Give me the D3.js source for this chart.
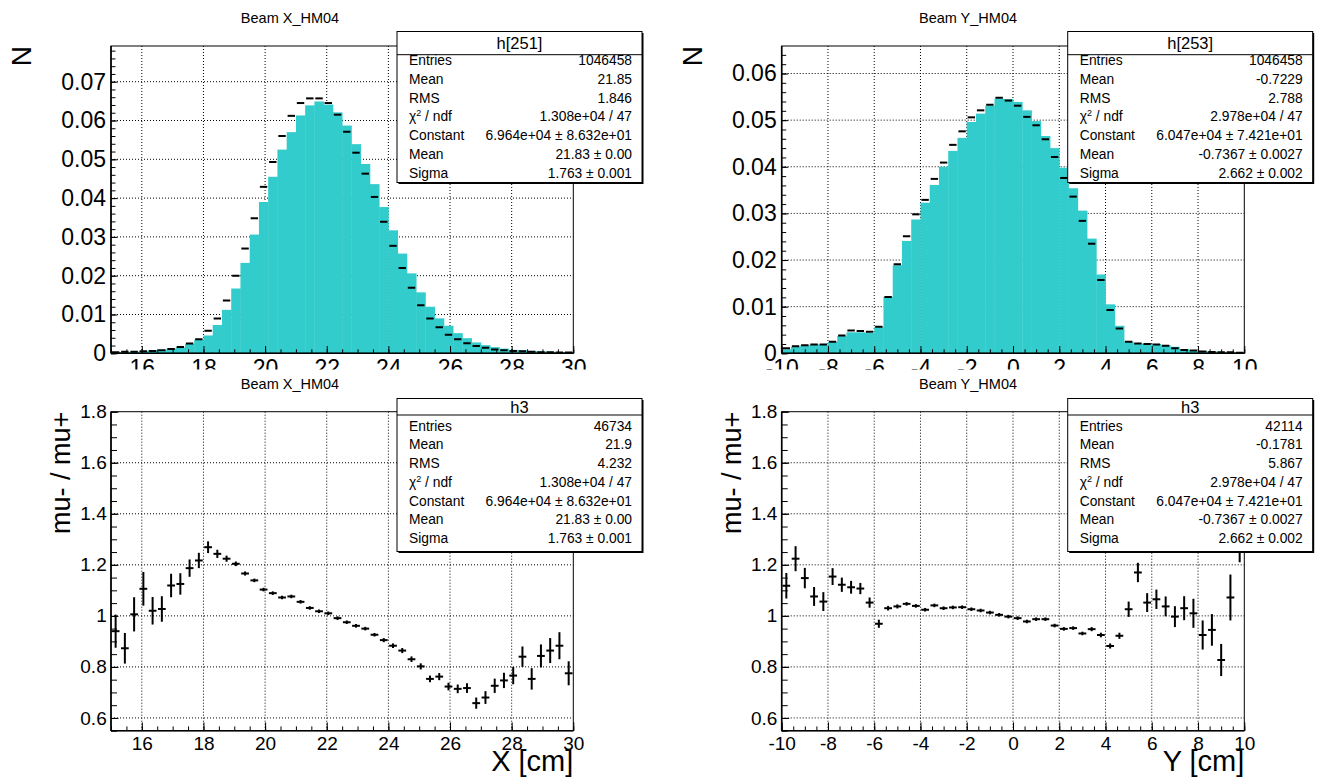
<!DOCTYPE html>
<html><head><meta charset="utf-8">
<script src="https://cdn.jsdelivr.net/npm/d3@7"></script>
<style>body{margin:0;background:#fff} svg{display:block}</style>
</head><body>
<script>
const FONT = "'Liberation Sans', Arial, Helvetica, sans-serif";

// ---------------- data ----------------
const nBins = 50;
const rangeX = [15, 30];
const rangeY = [-10, 10];

// Beam X_HM04 (top-left): filled histogram and marker histogram (normalized N)
const histXFill = [0.0003,0.0003,0.0004,0.0006,0.0008,0.0009,0.0012,0.0015,0.0024,0.0035,0.0046,0.0073,0.0112,0.0167,0.0233,0.0306,0.0390,0.0455,0.0525,0.0570,0.0613,0.0639,0.0649,0.0641,0.0621,0.0587,0.0539,0.0488,0.0436,0.0377,0.0317,0.0257,0.0206,0.0157,0.0120,0.0090,0.0071,0.0052,0.0039,0.0028,0.0021,0.0016,0.0012,0.0009,0.0008,0.0006,0.0005,0.0004,0.0003,0.0003];
const histXMark = [0.0003,0.0004,0.0004,0.0005,0.0006,0.0008,0.0011,0.0016,0.0025,0.0036,0.0058,0.0090,0.0136,0.0200,0.0270,0.0348,0.0429,0.0493,0.0560,0.0612,0.0645,0.0657,0.0657,0.0645,0.0615,0.0571,0.0517,0.0463,0.0403,0.0339,0.0277,0.0220,0.0169,0.0124,0.0090,0.0067,0.0048,0.0036,0.0026,0.0019,0.0014,0.0010,0.0008,0.0006,0.0005,0.0004,0.0003,0.0003,0.0002,0.0002];

// Beam Y_HM04 (top-right)
const histYFill = [0.00086,0.0014,0.0017,0.0019,0.0019,0.0024,0.0037,0.0045,0.0045,0.0044,0.0056,0.0121,0.0189,0.0241,0.0287,0.0323,0.0361,0.0400,0.0434,0.0462,0.0496,0.0514,0.0531,0.0546,0.0545,0.0539,0.0521,0.0498,0.0466,0.0440,0.0398,0.0354,0.0306,0.0246,0.0169,0.0105,0.0059,0.0025,0.0021,0.0020,0.0020,0.0017,0.0014,0.0009,0.0007,0.0005,0.0004,0.0003,0.0002,0.0002];
const histYMark = [0.0011,0.0015,0.0017,0.0019,0.0019,0.0025,0.0038,0.0049,0.0048,0.0046,0.0057,0.0121,0.0191,0.0251,0.0298,0.0329,0.0374,0.0409,0.0447,0.0476,0.0506,0.0521,0.0533,0.0548,0.0542,0.0531,0.0507,0.0489,0.0459,0.0421,0.0376,0.0336,0.0284,0.0235,0.0157,0.0093,0.0053,0.0025,0.0021,0.0020,0.0019,0.0016,0.0011,0.0007,0.0006,0.0004,0.0003,0.0002,0.0002,0.0001];

// mu- / mu+ ratio vs X (bottom-left)
const ratioX = [0.940,0.873,1.006,1.106,1.020,1.027,1.119,1.125,1.187,1.217,1.269,1.243,1.224,1.204,1.166,1.139,1.103,1.089,1.072,1.076,1.055,1.031,1.018,1.010,0.991,0.975,0.961,0.950,0.926,0.905,0.883,0.864,0.830,0.802,0.753,0.762,0.723,0.714,0.717,0.658,0.680,0.726,0.747,0.766,0.840,0.753,0.843,0.864,0.883,0.775];
const ratioXErr = [0.065,0.060,0.067,0.066,0.054,0.050,0.046,0.042,0.034,0.030,0.023,0.016,0.012,0.009,0.008,0.007,0.007,0.007,0.007,0.007,0.007,0.007,0.007,0.007,0.007,0.007,0.007,0.007,0.007,0.008,0.009,0.010,0.011,0.012,0.013,0.014,0.015,0.017,0.019,0.022,0.025,0.028,0.030,0.034,0.040,0.042,0.045,0.049,0.053,0.047];

// mu- / mu+ ratio vs Y (bottom-right)
const ratioY = [1.118,1.224,1.148,1.076,1.056,1.154,1.122,1.112,1.107,1.052,0.969,1.030,1.037,1.047,1.039,1.024,1.041,1.030,1.033,1.034,1.026,1.021,1.013,1.004,0.997,0.991,0.978,0.987,0.987,0.962,0.949,0.952,0.931,0.948,0.925,0.882,0.922,1.026,1.170,1.052,1.065,1.037,0.997,1.030,1.010,0.925,0.945,0.827,1.072,1.330];
const ratioYErr = [0.050,0.049,0.040,0.037,0.037,0.033,0.028,0.025,0.022,0.020,0.016,0.009,0.008,0.007,0.007,0.007,0.007,0.007,0.007,0.007,0.007,0.007,0.007,0.007,0.007,0.007,0.007,0.007,0.007,0.007,0.007,0.007,0.007,0.008,0.009,0.010,0.012,0.030,0.038,0.037,0.038,0.039,0.041,0.047,0.057,0.057,0.062,0.063,0.090,0.120];

// tick labels
const ticksXcm = [16,18,20,22,24,26,28,30];
const ticksYcm = [-10,-8,-6,-4,-2,0,2,4,6,8,10];
const ticksNX = [0,0.01,0.02,0.03,0.04,0.05,0.06,0.07];
const ticksNY = [0,0.01,0.02,0.03,0.04,0.05,0.06];
const ticksRatio = [0.6,0.8,1.0,1.2,1.4,1.6,1.8];

// statistics boxes
const statsTL = [["Entries","1046458"],["Mean","21.85"],["RMS","1.846"],["CHI","1.308e+04 / 47"],["Constant","6.964e+04 \u00b1 8.632e+01"],["Mean","21.83 \u00b1 0.00"],["Sigma","1.763 \u00b1 0.001"]];
const statsTR = [["Entries","1046458"],["Mean","-0.7229"],["RMS","2.788"],["CHI","2.978e+04 / 47"],["Constant","6.047e+04 \u00b1 7.421e+01"],["Mean","-0.7367 \u00b1 0.0027"],["Sigma","2.662 \u00b1 0.002"]];
const statsBL = [["Entries","46734"],["Mean","21.9"],["RMS","4.232"],["CHI","1.308e+04 / 47"],["Constant","6.964e+04 \u00b1 8.632e+01"],["Mean","21.83 \u00b1 0.00"],["Sigma","1.763 \u00b1 0.001"]];
const statsBR = [["Entries","42114"],["Mean","-0.1781"],["RMS","5.867"],["CHI","2.978e+04 / 47"],["Constant","6.047e+04 \u00b1 7.421e+01"],["Mean","-0.7367 \u00b1 0.0027"],["Sigma","2.662 \u00b1 0.002"]];

// ---------------- drawing ----------------
const W = 1320, H = 778;
const svg = d3.select("body").append("svg").attr("width", W).attr("height", H)
  .attr("font-family", FONT);
svg.append("rect").attr("width", W).attr("height", H).attr("fill", "#fff");
const defs = svg.append("defs");
defs.append("clipPath").attr("id", "topclip").append("rect").attr("x", 0).attr("y", 0).attr("width", W).attr("height", 369.5);

const gTop = svg.append("g").attr("clip-path", "url(#topclip)");
const gBot = svg.append("g");

function rangeStep(a, b, s) {
  const out = [];
  const n = Math.round((b - a) / s);
  for (let i = 0; i <= n; i++) out.push(+(a + i * s).toFixed(6));
  return out;
}

function makePanel(g, o) {
  const x = d3.scaleLinear().domain(o.xDom).range([o.left, o.right]);
  const y = d3.scaleLinear().domain(o.yDom).range([o.bottom, o.top]);
  const grid = g.append("g").attr("stroke", "#000").attr("stroke-width", 1).attr("stroke-dasharray", "1,2");
  grid.selectAll("line.gx").data(o.xMajor.filter(v => v > o.xDom[0] && v < o.xDom[1])).join("line")
    .attr("x1", d => x(d)).attr("x2", d => x(d)).attr("y1", o.top).attr("y2", o.bottom);
  grid.selectAll("line.gy").data(o.yMajor.filter(v => v > o.yDom[0] && v < o.yDom[1])).join("line")
    .attr("y1", d => y(d)).attr("y2", d => y(d)).attr("x1", o.left).attr("x2", o.right);
  const content = g.append("g");
  const axes = g.append("g");
  // minor ticks
  const yMin = d3.axisLeft(y).tickValues(o.yMinor).tickSize(-o.yMinLen).tickSizeOuter(0).tickFormat("");
  axes.append("g").attr("transform", `translate(${o.left},0)`).call(yMin).call(s => s.select(".domain").remove());
  const xMin = d3.axisBottom(x).tickValues(o.xMinor).tickSize(-o.xMinLen).tickSizeOuter(0).tickFormat("");
  axes.append("g").attr("transform", `translate(0,${o.bottom})`).call(xMin).call(s => s.select(".domain").remove());
  // major ticks + labels
  const yAx = d3.axisLeft(y).tickValues(o.yMajor).tickSize(-o.yMajLen).tickSizeOuter(0).tickPadding(o.yPad).tickFormat(o.yFmt);
  axes.append("g").attr("transform", `translate(${o.left},0)`).call(yAx)
    .call(s => s.select(".domain").remove())
    .attr("font-size", o.yFS).attr("font-family", FONT)
    .call(s => s.selectAll("text").attr("fill", "#000"));
  const xAx = d3.axisBottom(x).tickValues(o.xMajor).tickSize(-o.xMajLen).tickSizeOuter(0).tickPadding(o.xPad).tickFormat(d => String(d));
  axes.append("g").attr("transform", `translate(0,${o.bottom})`).call(xAx)
    .call(s => s.select(".domain").remove())
    .attr("font-size", o.xFS).attr("font-family", FONT)
    .call(s => s.selectAll("text").attr("fill", "#000"));
  axes.selectAll(".tick line").attr("stroke", "#000");
  // frame
  axes.append("rect").attr("x", o.left).attr("y", o.top).attr("width", o.right - o.left).attr("height", o.bottom - o.top)
    .attr("fill", "none").attr("stroke", "#000").attr("stroke-width", 1);
  axes.append("line").attr("x1", o.left).attr("x2", o.left).attr("y1", o.top).attr("y2", o.bottom).attr("stroke", "#000").attr("stroke-width", 1.6);
  axes.append("line").attr("x1", o.left).attr("x2", o.right).attr("y1", o.bottom).attr("y2", o.bottom).attr("stroke", "#000").attr("stroke-width", 1.6);
  return { x, y, content };
}

function drawHist(p, range, fill, marks) {
  const bw = (range[1] - range[0]) / nBins;
  const edge = i => p.x(range[0] + i * bw);
  p.content.selectAll("rect.bar").data(fill).join("rect").attr("class", "bar")
    .attr("x", (d, i) => edge(i)).attr("width", (d, i) => edge(i + 1) - edge(i) + 0.4)
    .attr("y", d => p.y(d)).attr("height", d => p.y(0) - p.y(d))
    .attr("fill", "#33cccc");
  p.content.selectAll("line.mk").data(marks).join("line").attr("class", "mk")
    .attr("x1", (d, i) => edge(i + 0.1)).attr("x2", (d, i) => edge(i + 0.9))
    .attr("y1", d => p.y(d)).attr("y2", d => p.y(d))
    .attr("stroke", "#000").attr("stroke-width", 2);
}

function drawRatio(p, range, vals, errs) {
  const bw = (range[1] - range[0]) / nBins;
  const cx = i => p.x(range[0] + (i + 0.5) * bw);
  const pts = vals.map((v, i) => ({ v, e: errs[i], i }));
  const g = p.content.append("g").attr("stroke", "#000").attr("stroke-width", 2);
  g.selectAll("line.h").data(pts).join("line")
    .attr("x1", d => p.x(range[0] + (d.i + 0.08) * bw)).attr("x2", d => p.x(range[0] + (d.i + 0.92) * bw))
    .attr("y1", d => p.y(d.v)).attr("y2", d => p.y(d.v));
  g.selectAll("line.v").data(pts).join("line")
    .attr("x1", d => cx(d.i)).attr("x2", d => cx(d.i))
    .attr("y1", d => p.y(d.v - d.e)).attr("y2", d => p.y(d.v + d.e));
}

function statBox(g, o, title, rows) {
  g.append("rect").attr("x", o.x + 1.5).attr("y", o.y + 1.5).attr("width", o.w).attr("height", o.h).attr("fill", "#000");
  g.append("rect").attr("x", o.x).attr("y", o.y).attr("width", o.w).attr("height", o.h)
    .attr("fill", "#fff").attr("stroke", "#000").attr("stroke-width", 1);
  g.append("line").attr("x1", o.x).attr("x2", o.x + o.w).attr("y1", o.sep).attr("y2", o.sep).attr("stroke", "#000").attr("stroke-width", 1);
  g.append("text").attr("x", o.x + o.w / 2).attr("y", o.titleY).attr("text-anchor", "middle")
    .attr("font-size", 16.5).attr("fill", "#000").text(title);
  rows.forEach((r, i) => {
    const yy = o.row0 + i * o.step;
    const lab = g.append("text").attr("x", o.x + 12).attr("y", yy).attr("font-size", 13.8).attr("fill", "#000");
    if (r[0] === "CHI") {
      lab.append("tspan").text("\u03c7");
      lab.append("tspan").attr("font-size", 9).attr("dy", -5).text("2");
      lab.append("tspan").attr("dy", 5).text(" / ndf");
    } else lab.text(r[0]);
    g.append("text").attr("x", o.x + o.w - 10).attr("y", yy).attr("text-anchor", "end")
      .attr("font-size", 13.8).attr("fill", "#000").text(r[1]);
  });
}

// panel geometry
const L1 = 111, R1 = 573.3, L2 = 781.7, R2 = 1244.3;
const T1 = 46, B1 = 353.3, T2 = 411.7, B2 = 730.7;

const fmtN = d => d === 0 ? "0" : d3.format(".2f")(d);
const fmtR = d => String(+d.toFixed(1));

const pTL = makePanel(gTop, {
  left: L1, right: R1, top: T1, bottom: B1, xDom: rangeX, yDom: [0, 0.0792],
  xMajor: ticksXcm, xMinor: rangeStep(15, 30, 0.5), yMajor: ticksNX, yMinor: rangeStep(0, 0.078, 0.002),
  yMajLen: 6.5, yMinLen: 4.5, xMajLen: 7.3, xMinLen: 4, yPad: 5, xPad: 6.7, yFS: 23, xFS: 23, yFmt: fmtN
});
drawHist(pTL, rangeX, histXFill, histXMark);

const pTR = makePanel(gTop, {
  left: L2, right: R2, top: T1, bottom: B1, xDom: rangeY, yDom: [0, 0.0659],
  xMajor: ticksYcm, xMinor: rangeStep(-10, 10, 0.5), yMajor: ticksNY, yMinor: rangeStep(0, 0.064, 0.002),
  yMajLen: 6.5, yMinLen: 4.5, xMajLen: 7.3, xMinLen: 4, yPad: 5, xPad: 6.7, yFS: 23, xFS: 23, yFmt: fmtN
});
drawHist(pTR, rangeY, histYFill, histYMark);

const pBL = makePanel(gBot, {
  left: L1, right: R1, top: T2, bottom: B2, xDom: rangeX, yDom: [0.55, 1.8],
  xMajor: ticksXcm, xMinor: rangeStep(15, 30, 0.5), yMajor: ticksRatio, yMinor: rangeStep(0.55, 1.8, 0.05),
  yMajLen: 7.5, yMinLen: 6, xMajLen: 8.3, xMinLen: 4.3, yPad: 4.3, xPad: 6, yFS: 19, xFS: 19, yFmt: fmtR
});
drawRatio(pBL, rangeX, ratioX, ratioXErr);

const pBR = makePanel(gBot, {
  left: L2, right: R2, top: T2, bottom: B2, xDom: rangeY, yDom: [0.55, 1.8],
  xMajor: ticksYcm, xMinor: rangeStep(-10, 10, 0.5), yMajor: ticksRatio, yMinor: rangeStep(0.55, 1.8, 0.05),
  yMajLen: 7.5, yMinLen: 6, xMajLen: 8.3, xMinLen: 4.3, yPad: 4.3, xPad: 6, yFS: 19, xFS: 19, yFmt: fmtR
});
drawRatio(pBR, rangeY, ratioY, ratioYErr);

// titles
[[gTop, 290, 23], [gTop, 968, 23], [gBot, 290, 388.5], [gBot, 968, 388.5]].forEach((t, i) => {
  t[0].append("text").attr("x", t[1]).attr("y", t[2]).attr("text-anchor", "middle").attr("font-size", 14.5)
    .attr("fill", "#000").text(i % 2 === 0 ? "Beam X_HM04" : "Beam Y_HM04");
});

// axis titles
[[31, gTop], [31 + (L2 - L1), gTop]].forEach(a => {
  a[1].append("text").attr("transform", `translate(${a[0]},${T1}) rotate(-90)`).attr("text-anchor", "end")
    .attr("font-size", 28).attr("fill", "#000").text("N");
});
[70, 70 + (L2 - L1)].forEach(xx => {
  gBot.append("text").attr("transform", `translate(${xx},${T2}) rotate(-90)`).attr("text-anchor", "end")
    .attr("font-size", 27).attr("fill", "#000").text("mu- / mu+");
});
gBot.append("text").attr("x", R1).attr("y", 771).attr("text-anchor", "end").attr("font-size", 29).attr("fill", "#000").text("X [cm]");
gBot.append("text").attr("x", R2).attr("y", 771).attr("text-anchor", "end").attr("font-size", 29).attr("fill", "#000").text("Y [cm]");

// stat boxes
statBox(gTop, { x: 397, y: 31.5, w: 245, h: 151, sep: 54.7, titleY: 49, row0: 65.3, step: 18.73 }, "h[251]", statsTL);
statBox(gTop, { x: 1067.7, y: 31.5, w: 245, h: 151, sep: 54.7, titleY: 49, row0: 65.3, step: 18.73 }, "h[253]", statsTR);
statBox(gBot, { x: 397, y: 398.5, w: 245, h: 153, sep: 415, titleY: 412.5, row0: 430.7, step: 18.75 }, "h3", statsBL);
statBox(gBot, { x: 1067.7, y: 398.5, w: 245, h: 153, sep: 415, titleY: 412.5, row0: 430.7, step: 18.75 }, "h3", statsBR);
</script>
</body></html>
